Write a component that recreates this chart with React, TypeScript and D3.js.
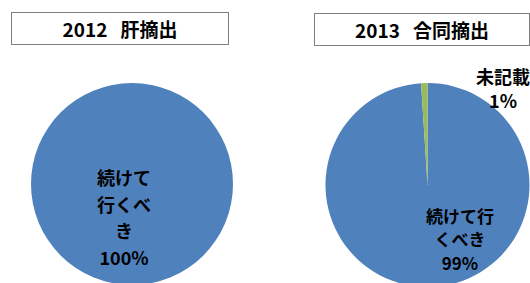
import React, { useEffect, useRef } from 'react';
import * as d3 from 'd3';

// chart titles
const titles = ['2012\u00A0\u00A0\u00A0肝摘出', '2013\u00A0\u00A0\u00A0合同摘出'];

// category names
const categories = ['続けて行くべき', '未記載'];

// series values (percent)
const values2012 = [100, 0];
const values2013 = [99, 1];

// label lines as wrapped in the original
const labels2012 = [['続けて', '行くべ', 'き', '100%'], []];
const labels2013 = [['続けて行', 'くべき', '99%'], ['未記載', '1%']];

const colors = ['#4F81BD', '#9BBB59'];

const App = () => {
  const ref = useRef(null);

  useEffect(() => {
    const svg = d3.select(ref.current)
      .attr('width', 530)
      .attr('height', 283)
      .style('background-color', '#FFFFFF');

    svg.selectAll('*').remove();

    const font = '"Noto Sans CJK JP", "Noto Sans", sans-serif';

    const panels = [
      { title: titles[0], values: values2012, labels: labels2012, cx: 132, cy: 184, r: 101,
        box: { x: 11.5, y: 12.5, w: 217, h: 32 },
        labelPos: [{ x: 124, y: 177, step: 26.5, size: 18 }, null] },
      { title: titles[1], values: values2013, labels: labels2013, cx: 427.5, cy: 185, r: 102,
        box: { x: 314.5, y: 13.5, w: 215, h: 32 },
        labelPos: [{ x: 460, y: 215, step: 23.5, size: 17 }, { x: 503, y: 76, step: 24, size: 18 }] },
    ];

    const pie = d3.pie<number>().sort(null).value(d => d);

    panels.forEach(p => {
      const g = svg.append('g');

      // title box
      g.append('rect')
        .attr('x', p.box.x)
        .attr('y', p.box.y)
        .attr('width', p.box.w)
        .attr('height', p.box.h)
        .attr('fill', '#FFFFFF')
        .attr('stroke', '#7F7F7F')
        .attr('stroke-width', 1);

      g.append('text')
        .attr('x', p.box.x + p.box.w / 2)
        .attr('y', p.box.y + p.box.h / 2)
        .attr('text-anchor', 'middle')
        .attr('dominant-baseline', 'central')
        .style('font-family', font)
        .style('font-weight', 'bold')
        .style('font-size', '19px')
        .style('fill', '#000000')
        .text(p.title);

      const arc = d3.arc<d3.PieArcDatum<number>>()
        .innerRadius(0)
        .outerRadius(p.r);

      const slices = g.append('g')
        .attr('transform', `translate(${p.cx},${p.cy})`);

      slices.selectAll('path')
        .data(pie(p.values).filter(d => d.value > 0))
        .enter().append('path')
        .attr('d', arc)
        .attr('fill', d => colors[d.index]);

      // data labels
      p.labels.forEach((lines, i) => {
        const pos = p.labelPos[i];
        if (!pos || lines.length === 0) return;
        lines.forEach((line, j) => {
          g.append('text')
            .attr('x', pos.x)
            .attr('y', pos.y + j * pos.step)
            .attr('text-anchor', 'middle')
            .attr('dominant-baseline', 'central')
            .style('font-family', font)
            .style('font-weight', 'bold')
            .style('font-size', `${pos.size}px`)
            .style('fill', '#000000')
            .text(line);
        });
      });
    });
  }, []);

  return (
    <svg ref={ref} style={{ position: 'absolute', left: 0, top: 0 }}></svg>
  );
};

export default App;
